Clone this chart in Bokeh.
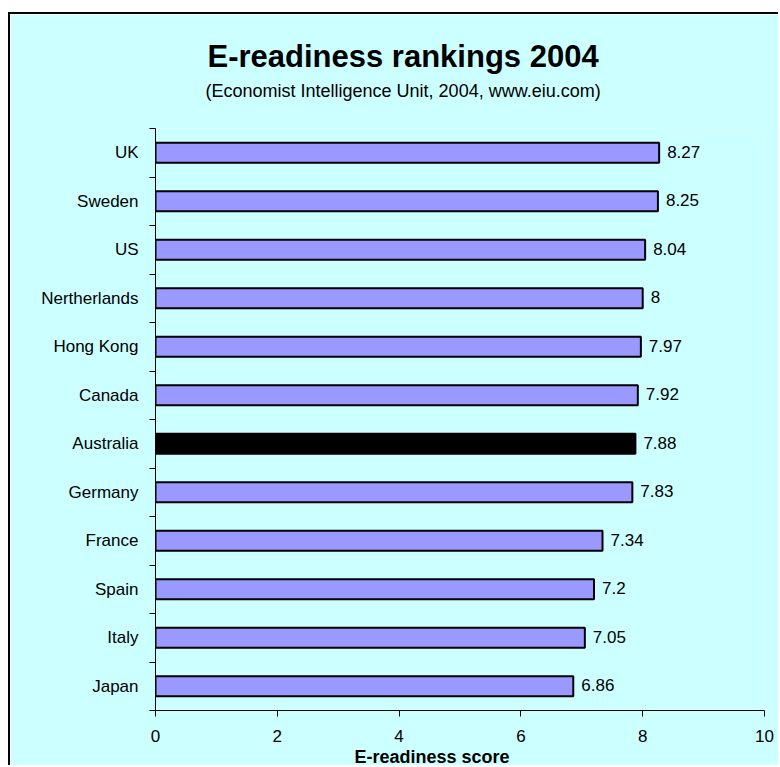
from bokeh.plotting import figure
from bokeh.models import Range1d, FixedTicker, Title, ColumnDataSource
from bokeh.embed import file_html
from bokeh.resources import INLINE
from bokeh.core.properties import value

# ---- data ----
countries = ["UK", "Sweden", "US", "Nertherlands", "Hong Kong", "Canada",
             "Australia", "Germany", "France", "Spain", "Italy", "Japan"]
scores = [8.27, 8.25, 8.04, 8.00, 7.97, 7.92, 7.88, 7.83, 7.34, 7.20, 7.05, 6.86]
highlight = "Australia"
x_ticks = [0, 2, 4, 6, 8, 10]

title_text = "E-readiness rankings 2004"
subtitle_text = "(Economist Intelligence Unit, 2004, www.eiu.com)"
x_title = "E-readiness score"

# ---- styling ----
FONT = "Liberation Sans"
BG = "#CCFFFF"
BAR = "#9999FF"

n = len(countries)
ys = [n - i - 0.5 for i in range(n)]
colors = ["#000000" if c == highlight else BAR for c in countries]
labels = [f"{s:g}" for s in scores]
src = ColumnDataSource(dict(y=ys, score=scores, color=colors, label=labels, country=countries))

p = figure(width=770, height=753, output_backend="svg", toolbar_location=None, title=None,
           x_range=Range1d(0, 10), y_range=Range1d(0, n),
           min_border_left=145, min_border_right=16, min_border_top=114, min_border_bottom=57,
           background_fill_color=BG, border_fill_color=BG, outline_line_color=None,
           margin=(12, 0, 0, 8),
           styles={"border-left": "2px solid black", "border-top": "2px solid black"})

p.xgrid.visible = False
p.ygrid.visible = False

p.hbar(y="y", right="score", left=0, height=0.41, fill_color="color",
       line_color="black", line_width=2, source=src)

p.text(x="score", y="y", text="label", x_offset=8, y_offset=-1, text_baseline="middle",
       text_align="left", text_font=value(FONT), text_font_size="17px",
       text_color="black", source=src)

xa = p.xaxis[0]
xa.ticker = FixedTicker(ticks=x_ticks, minor_ticks=[])
xa.major_tick_out = 6
xa.major_tick_in = 0
xa.minor_tick_line_color = None
xa.minor_tick_out = 0
xa.minor_tick_in = 0
xa.axis_line_color = "black"
xa.major_tick_line_color = "black"
xa.major_label_text_font = FONT
xa.major_label_text_font_size = "17px"
xa.major_label_text_color = "black"
xa.major_label_standoff = 13

ya = p.yaxis[0]
ya.ticker = FixedTicker(ticks=ys, minor_ticks=list(range(n + 1)))
ya.major_label_overrides = {y: c for y, c in zip(ys, countries)}
ya.major_tick_in = 0
ya.major_tick_out = 0
ya.major_tick_line_color = None
ya.minor_tick_in = 0
ya.minor_tick_out = 6
ya.minor_tick_line_color = "black"
ya.axis_line_color = "black"
ya.major_label_text_font = FONT
ya.major_label_text_font_size = "17px"
ya.major_label_text_color = "black"
ya.major_label_standoff = 11


def spacer(standoff):
    return Title(text=" ", text_font=FONT, text_font_size="10px", standoff=standoff,
                 text_color=BG, vertical_align="top")


# above panels: first added sits nearest the frame
p.add_layout(spacer(13), "above")
p.add_layout(Title(text=subtitle_text, align="left", offset=50, vertical_align="top",
                   standoff=0, text_font=FONT, text_font_size="18px",
                   text_font_style="normal", text_color="black"), "above")
p.add_layout(Title(text=title_text, align="left", offset=52, vertical_align="top",
                   standoff=9, text_font=FONT, text_font_size="31px",
                   text_font_style="bold", text_color="black"), "above")
p.add_layout(spacer(7), "above")

p.add_layout(Title(text=x_title, align="left", offset=199, vertical_align="bottom",
                   standoff=0, text_font=FONT, text_font_size="18px",
                   text_font_style="bold", text_color="black"), "below")

open("out.html", "w").write(file_html(p, INLINE))
